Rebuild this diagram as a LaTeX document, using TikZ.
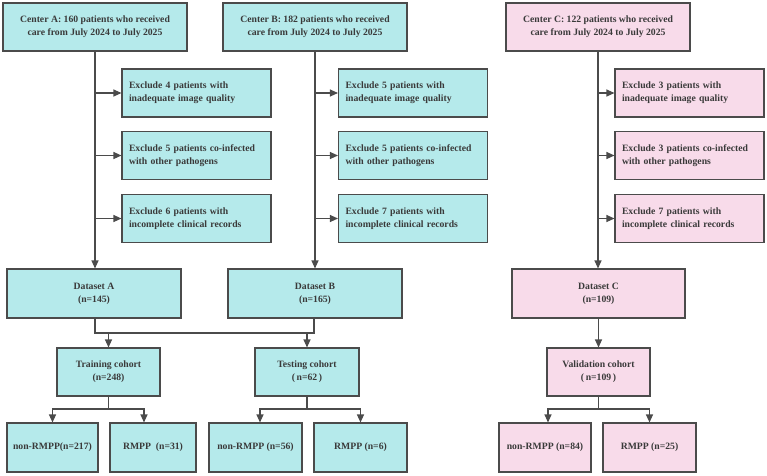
\documentclass[tikz,border=0pt]{standalone}
\usepackage{fontspec}
\setmainfont{Liberation Serif}
\usepackage{tikz}
\usetikzlibrary{arrows.meta}

\definecolor{boxcyan}{HTML}{B5EAEB}
\definecolor{boxpink}{HTML}{F8DBEA}
\definecolor{edgegray}{HTML}{4B4B4B}
\definecolor{textgray}{HTML}{3A3A3A}

\begin{document}
\begin{tikzpicture}[x=1pt,y=-1pt,
    >={Triangle[length=8pt,width=7pt]},
    every node/.style={font=\fontsize{9.7}{12.8}\selectfont\bfseries,text=textgray},
    box/.style={draw=edgegray,line width=1.1pt,inner sep=0pt,align=center,
      minimum height=48pt},
    cyanbox/.style={box,fill=boxcyan},
    pinkbox/.style={box,fill=boxpink},
    excl/.style={text width=135pt,align=left,minimum width=149pt},
    line/.style={draw=edgegray,line width=1.1pt}]
    \useasboundingbox (0,0) rectangle (767,475);

    %% centers
    \node[cyanbox,minimum width=184pt] (cA) at (95,27) {Center A: 160 patients who received\\care from July 2024 to July 2025};
    \node[cyanbox,minimum width=184pt] (cB) at (315,27) {Center B: 182 patients who received\\care from July 2024 to July 2025};
    \node[pinkbox,minimum width=184pt] (cC) at (598,27) {Center C: 122 patients who received\\care from July 2024 to July 2025};

    %% exclusions
    \node[cyanbox,excl] (eA1) at (196.5,93) {Exclude 4 patients with\\inadequate image quality};
    \node[cyanbox,excl] (eA2) at (196.5,155.5) {Exclude 5 patients co-infected\\with other pathogens};
    \node[cyanbox,excl] (eA3) at (196.5,218.5) {Exclude 6 patients with\\incomplete clinical records};
    \node[cyanbox,excl] (eB1) at (413,93) {Exclude 5 patients with\\inadequate image quality};
    \node[cyanbox,excl] (eB2) at (413,155.5) {Exclude 5 patients co-infected\\with other pathogens};
    \node[cyanbox,excl] (eB3) at (413,218.5) {Exclude 7 patients with\\incomplete clinical records};
    \node[pinkbox,excl] (eC1) at (689.5,93) {Exclude 3 patients with\\inadequate image quality};
    \node[pinkbox,excl] (eC2) at (689.5,155.5) {Exclude 3 patients co-infected\\with other pathogens};
    \node[pinkbox,excl] (eC3) at (689.5,218.5) {Exclude 7 patients with\\incomplete clinical records};

    %% datasets
    \node[cyanbox,minimum width=174pt,minimum height=49pt] (dA) at (94,293.5) {Dataset A\\(n=145)};
    \node[cyanbox,minimum width=174pt,minimum height=49pt] (dB) at (315,293.5) {Dataset B\\(n=165)};
    \node[pinkbox,minimum width=173pt,minimum height=49pt] (dC) at (598.5,293.5) {Dataset C\\(n=109)};

    %% cohorts
    \node[cyanbox,minimum width=103pt] (train) at (108.5,372) {Training cohort\\(n=248)};
    \node[cyanbox,minimum width=104pt] (test) at (307,372) {Testing cohort\\(\,n=62\,)};
    \node[pinkbox,minimum width=103pt] (valid) at (598.5,372) {Validation cohort\\(\,n=109\,)};

    %% outcomes
    \node[cyanbox,minimum width=91pt,minimum height=49pt] (nA) at (52.5,447.5) {non-RMPP(n=217)};
    \node[cyanbox,minimum width=86pt,minimum height=49pt] (rA) at (153,447.5) {RMPP\ \ (n=31)};
    \node[cyanbox,minimum width=93pt,minimum height=49pt] (nB) at (255.5,447.5) {non-RMPP (n=56)};
    \node[cyanbox,minimum width=93pt,minimum height=49pt] (rB) at (360.5,447.5) {RMPP (n=6)};
    \node[pinkbox,minimum width=92pt,minimum height=49pt] (nC) at (545,447.5) {non-RMPP (n=84)};
    \node[pinkbox,minimum width=93pt,minimum height=49pt] (rC) at (649.5,447.5) {RMPP (n=25)};

    %% trunks
    \draw[line,->] (cA.south) -- (dA.north -| cA.south);
    \draw[line,->] (cB.south) -- (dB.north -| cB.south);
    \draw[line,->] (cC.south) -- (dC.north -| cC.south);
    \foreach \c in {A,B,C}
      \foreach \i in {1,2,3}
        \draw[line,->] (c\c.south |- e\c\i.west) -- (e\c\i.west);

    %% merge A and B
    \coordinate (mA) at (95,333);
    \coordinate (mB) at (314,333);
    \draw[line] (dA.south -| mA) -- (mA) -- (mB) -- (dB.south -| mB);
    \draw[line,->] (train.north |- mA) -- (train.north);
    \draw[line,->] (test.north |- mB) -- (test.north);
    \draw[line,->] (dC.south) -- (valid.north);

    %% splits
    \coordinate (sA) at (108.5,409);
    \coordinate (sB) at (307,409);
    \coordinate (sC) at (598.5,409);
    \draw[line] (train.south) -- (sA);
    \draw[line,->] (sA) -| (nA.north);
    \draw[line,->] (sA) -| ([xshift=-9pt]rA.north);
    \draw[line] (test.south) -- (sB);
    \draw[line,->] (sB) -| ([xshift=4.5pt]nB.north);
    \draw[line,->] (sB) -| (rB.north);
    \draw[line] (valid.south) -- (sC);
    \draw[line,->] (sC) -| ([xshift=3pt]nC.north);
    \draw[line,->] (sC) -| (rC.north);
  \end{tikzpicture}
\end{document}
